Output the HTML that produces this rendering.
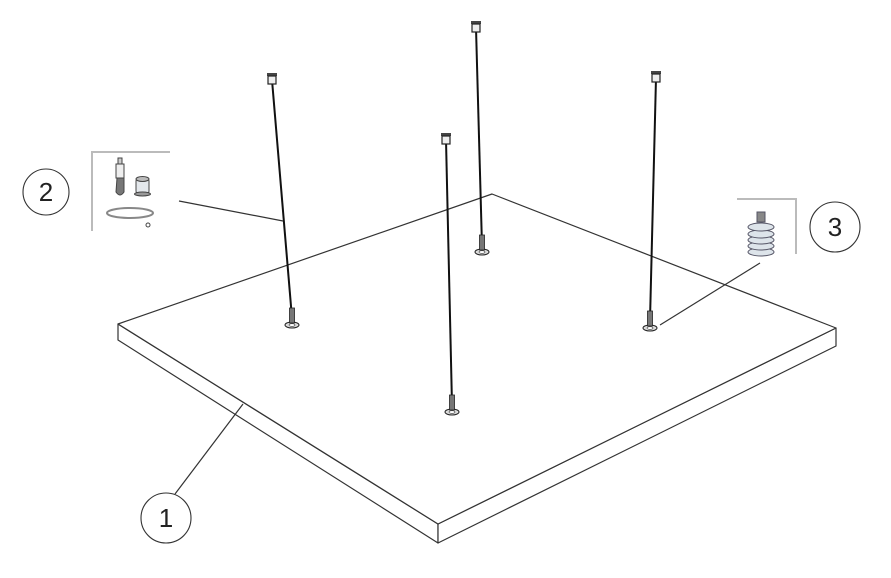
<!DOCTYPE html>
<html><head><style>html,body{margin:0;padding:0;background:#fff;}svg{display:block}</style></head><body>
<svg width="891" height="578" viewBox="0 0 891 578" xmlns="http://www.w3.org/2000/svg">
<defs>
<g id="cap"><rect x="-5" y="-5" width="10" height="3" fill="#444"/><rect x="-4" y="-2" width="8" height="8" fill="#eee" stroke="#222" stroke-width="1.2"/></g>
<g id="grip"><ellipse cx="0" cy="3" rx="7" ry="3" fill="#ddd" stroke="#222" stroke-width="1"/><ellipse cx="0" cy="3" rx="3" ry="1.3" fill="#fff" stroke="#333" stroke-width="0.6"/><rect x="-2.5" y="-14" width="5" height="15" fill="#777" stroke="#222" stroke-width="0.8"/></g>
</defs>
<g fill="#fff" stroke="#333" stroke-width="1.2" stroke-linejoin="round">
<polygon points="118,324 438,524 438,543 118,340"/>
<polygon points="438,524 836,328 836,346 438,543"/>
<polygon points="118,324 492,194 836,328 438,524"/>
</g>
<g stroke="#111" stroke-width="2">
<line x1="272" y1="80" x2="292" y2="318"/>
<line x1="476" y1="28" x2="482" y2="246"/>
<line x1="656" y1="78" x2="650" y2="320"/>
<line x1="446" y1="140" x2="452" y2="405"/>
</g>
<use href="#cap" x="272" y="78"/>
<use href="#cap" x="476" y="26"/>
<use href="#cap" x="656" y="76"/>
<use href="#cap" x="446" y="138"/>
<use href="#grip" x="292" y="322"/>
<use href="#grip" x="482" y="249"/>
<use href="#grip" x="650" y="325"/>
<use href="#grip" x="452" y="409"/>
<g stroke="#333" stroke-width="1.2" fill="none">
<line x1="179" y1="201" x2="283" y2="221"/>
<line x1="760" y1="263" x2="660" y2="325"/>
<line x1="175" y1="494" x2="243" y2="404"/>
</g>
<g stroke="#bbb" stroke-width="2" fill="none">
<polyline points="170,152 92,152 92,231"/>
<polyline points="737,199 796,199 796,254"/>
</g>
<g stroke="#444" stroke-width="1">
<rect x="118" y="158" width="4" height="6" fill="#ccc"/>
<rect x="116" y="164" width="8" height="14" fill="#eee"/>
<path d="M117,178 L116,192 Q120,198 124,192 L124,178 Z" fill="#777"/>
<rect x="136" y="179" width="13" height="14" rx="2" fill="#e4e8ec"/>
<ellipse cx="142.5" cy="179" rx="6.5" ry="2.5" fill="#bbb"/>
<ellipse cx="142.5" cy="194" rx="8" ry="2" fill="#999"/>
<ellipse cx="130" cy="213" rx="23" ry="5" fill="none" stroke="#888" stroke-width="2"/>
<circle cx="148" cy="225" r="2" fill="#fff"/>
</g>
<g stroke="#556" stroke-width="1" fill="#dde4ea">
<rect x="757" y="212" width="8" height="10" fill="#888"/>
<ellipse cx="761" cy="252" rx="13" ry="4"/>
<ellipse cx="761" cy="246" rx="13" ry="4"/>
<ellipse cx="761" cy="240" rx="13" ry="4"/>
<ellipse cx="761" cy="234" rx="13" ry="4"/>
<ellipse cx="761" cy="227" rx="13" ry="4"/>
</g>
<g fill="#fff" stroke="#333" stroke-width="1.1">
<circle cx="46" cy="192" r="23"/>
<circle cx="835" cy="227" r="25"/>
<circle cx="166" cy="518" r="25"/>
</g>
<g font-family="Liberation Sans, sans-serif" font-size="26" fill="#222" text-anchor="middle">
<text x="46" y="201">2</text>
<text x="835" y="236">3</text>
<text x="166" y="527">1</text>
</g>
</svg>
</body></html>
